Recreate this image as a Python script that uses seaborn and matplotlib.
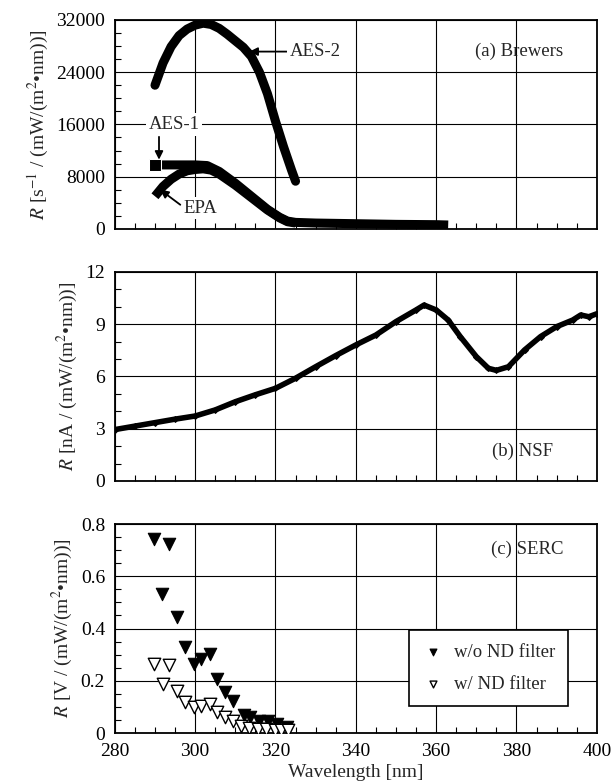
import numpy as np
import pandas as pd
import matplotlib
matplotlib.use("Agg")
import matplotlib.pyplot as plt
import seaborn as sns
from matplotlib.ticker import MultipleLocator

# ---------------- data ----------------
# (a) Brewers
wl_aes2 = [290, 292, 294, 296, 298, 300, 302, 304, 306, 308, 310, 312, 314, 316, 318, 320, 322, 324, 325]
r_aes2 = [22000, 25400, 27900, 29600, 30600, 31200, 31500, 31300, 30700, 29800, 28800, 27800, 26400, 24000, 20700, 16500, 12600, 9000, 7300]

wl_aes1 = [290, 293, 296, 300, 303, 306, 310, 314, 318, 321, 323, 325, 330, 340, 350, 360, 363]
r_aes1 = [9800, 9800, 9800, 9800, 9700, 8800, 7000, 5000, 3000, 1800, 1200, 1000, 900, 800, 700, 650, 600]

wl_epa = [290, 292, 294, 296, 298, 300, 302, 304, 306, 310, 314, 318, 321, 323, 325]
r_epa = [5000, 6500, 7600, 8400, 8900, 9100, 9200, 9000, 8400, 6700, 4800, 2900, 1700, 1100, 900]

# (b) NSF
wl_nsf = [280, 285, 290, 295, 300, 305, 310, 315, 320, 325, 330, 335, 340, 345, 350, 355, 357,
          360, 363, 366, 370, 373, 375, 378, 382, 386, 390, 394, 396, 398, 400]
r_nsf = [2.95, 3.15, 3.35, 3.55, 3.73, 4.08, 4.55, 4.95, 5.32, 5.9, 6.56, 7.2, 7.81, 8.38, 9.15, 9.82, 10.1,
         9.82, 9.24, 8.29, 7.14, 6.47, 6.35, 6.56, 7.52, 8.29, 8.86, 9.24, 9.53, 9.43, 9.6]

# (c) SERC
wl_wo = [289.8, 291.7, 293.4, 295.5, 297.4, 299.6, 301.5, 303.7, 305.4, 307.4, 309.5, 312.1, 313.7, 315.9, 318.2, 320.3, 322.8]
r_wo = [0.741, 0.532, 0.723, 0.446, 0.331, 0.265, 0.283, 0.303, 0.206, 0.158, 0.124, 0.070, 0.061, 0.045, 0.045, 0.033, 0.023]

wl_w = [289.8, 291.9, 293.6, 295.6, 297.4, 299.6, 301.5, 303.7, 305.4, 307.4, 309.5, 311.5, 313.5, 315.6, 317.7, 319.8, 321.3, 323.2]
r_w = [0.265, 0.189, 0.259, 0.159, 0.118, 0.099, 0.102, 0.112, 0.079, 0.060, 0.045, 0.028, 0.019, 0.015, 0.015, 0.013, 0.010, 0.010]

xticks = [280, 300, 320, 340, 360, 380, 400]

# ---------------- style ----------------
sns.set_theme(style="ticks")
plt.rcParams["font.family"] = ["Liberation Serif", "DejaVu Serif"]
plt.rcParams["mathtext.fontset"] = "stix"
plt.rcParams["axes.linewidth"] = 1.3
plt.rcParams["axes.edgecolor"] = "black"

fig = plt.figure(figsize=(6.14, 7.84), dpi=100)
axa = fig.add_axes([0.187, 0.708, 0.785, 0.2666])
axb = fig.add_axes([0.187, 0.3865, 0.785, 0.2666])
axc = fig.add_axes([0.187, 0.065, 0.785, 0.2666])

FS = 14
FT = 13.5


def style_axis(ax, ymax, ymajor, yminor, show_x):
    ax.set_xlim(280, 400)
    ax.set_ylim(0, ymax)
    ax.set_xticks(xticks)
    ax.xaxis.set_minor_locator(MultipleLocator(5))
    ax.yaxis.set_major_locator(MultipleLocator(ymajor))
    ax.yaxis.set_minor_locator(MultipleLocator(yminor))
    ax.grid(True, which="major", color="black", lw=0.8)
    ax.set_axisbelow(True)
    ax.tick_params(which="both", direction="in", top=False, right=False, colors="black", labelsize=FS)
    ax.tick_params(which="major", length=0, pad=7)
    ax.tick_params(which="minor", length=4, width=0.8)
    if not show_x:
        ax.tick_params(axis="x", labelbottom=False)
    for s in ax.spines.values():
        s.set_color("black")
        s.set_linewidth(1.3)


# (a) Brewers
sns.lineplot(x=wl_aes1, y=r_aes1, ax=axa, color="black", lw=6.5, estimator=None, solid_capstyle="butt",
             marker="s", markevery=[0], markersize=8)
sns.lineplot(x=wl_epa, y=r_epa, ax=axa, color="black", lw=6.5, estimator=None, solid_capstyle="butt")
sns.lineplot(x=wl_aes2, y=r_aes2, ax=axa, color="black", lw=6.5, estimator=None, solid_capstyle="round")
style_axis(axa, 32000, 8000, 2000, False)
axa.set_xlabel("")
axa.set_ylabel(r"$R$ [s$^{-1}$ / (mW/(m$^{2}$•nm))]", fontsize=FS)
axa.text(0.93, 0.85, "(a) Brewers", transform=axa.transAxes, ha="right", va="center", fontsize=FT)

wb = dict(boxstyle="square,pad=0.15", fc="white", ec="none")
arrow = dict(arrowstyle="-|>", color="black", lw=1.3, mutation_scale=12, shrinkA=0, shrinkB=0)
axa.annotate("AES-2", xy=(313.5, 27150), xytext=(323.5, 27150), ha="left", va="center",
             fontsize=FT, arrowprops=arrow, bbox=wb)
axa.text(294.7, 16000, "AES-1", ha="center", va="center", fontsize=FT, bbox=wb)
axa.annotate("", xy=(291.0, 10600), xytext=(291.0, 14100), arrowprops=arrow)
axa.text(297.2, 3200, "EPA", ha="left", va="center", fontsize=FT, bbox=wb)
axa.annotate("", xy=(291.3, 6000), xytext=(296.3, 3700), arrowprops=arrow)

# (b) NSF
sns.lineplot(x=wl_nsf, y=r_nsf, ax=axb, color="black", lw=4, estimator=None, marker="D",
             markersize=3, markeredgecolor="black")
style_axis(axb, 12, 3, 1, False)
axb.set_xlabel("")
axb.set_ylabel(r"$R$ [nA / (mW/(m$^{2}$•nm))]", fontsize=FS)
axb.text(0.91, 0.14, "(b) NSF", transform=axb.transAxes, ha="right", va="center", fontsize=FT)

# (c) SERC
sns.scatterplot(x=wl_wo, y=r_wo, ax=axc, marker="v", s=80, color="black", edgecolor="black",
                linewidth=0.8, label="w/o ND filter", zorder=3)
sns.scatterplot(x=wl_w, y=r_w, ax=axc, marker="v", s=80, facecolor="white", edgecolor="black",
                linewidth=1.0, label="w/ ND filter", zorder=3)
style_axis(axc, 0.8, 0.2, 0.05, True)
axc.set_xlabel("Wavelength [nm]", fontsize=FS, labelpad=3)
axc.set_ylabel(r"$R$ [V / (mW/(m$^{2}$•nm))]", fontsize=FS)
axc.text(0.93, 0.88, "(c) SERC", transform=axc.transAxes, ha="right", va="center", fontsize=FT)
axc.set_yticks([0, 0.2, 0.4, 0.6, 0.8])
axc.set_yticklabels(["0", "0.2", "0.4", "0.6", "0.8"])
leg = axc.legend(loc="lower left", bbox_to_anchor=(0.59, 0.085), fontsize=FT, markerscale=0.55,
                 frameon=True, fancybox=False, framealpha=1, edgecolor="black",
                 handletextpad=0.5, borderpad=0.7, labelspacing=0.8, handlelength=1.2)
leg.get_frame().set_linewidth(1.2)

fig.align_ylabels([axa, axb, axc])
fig.savefig("out.png", dpi=100)
